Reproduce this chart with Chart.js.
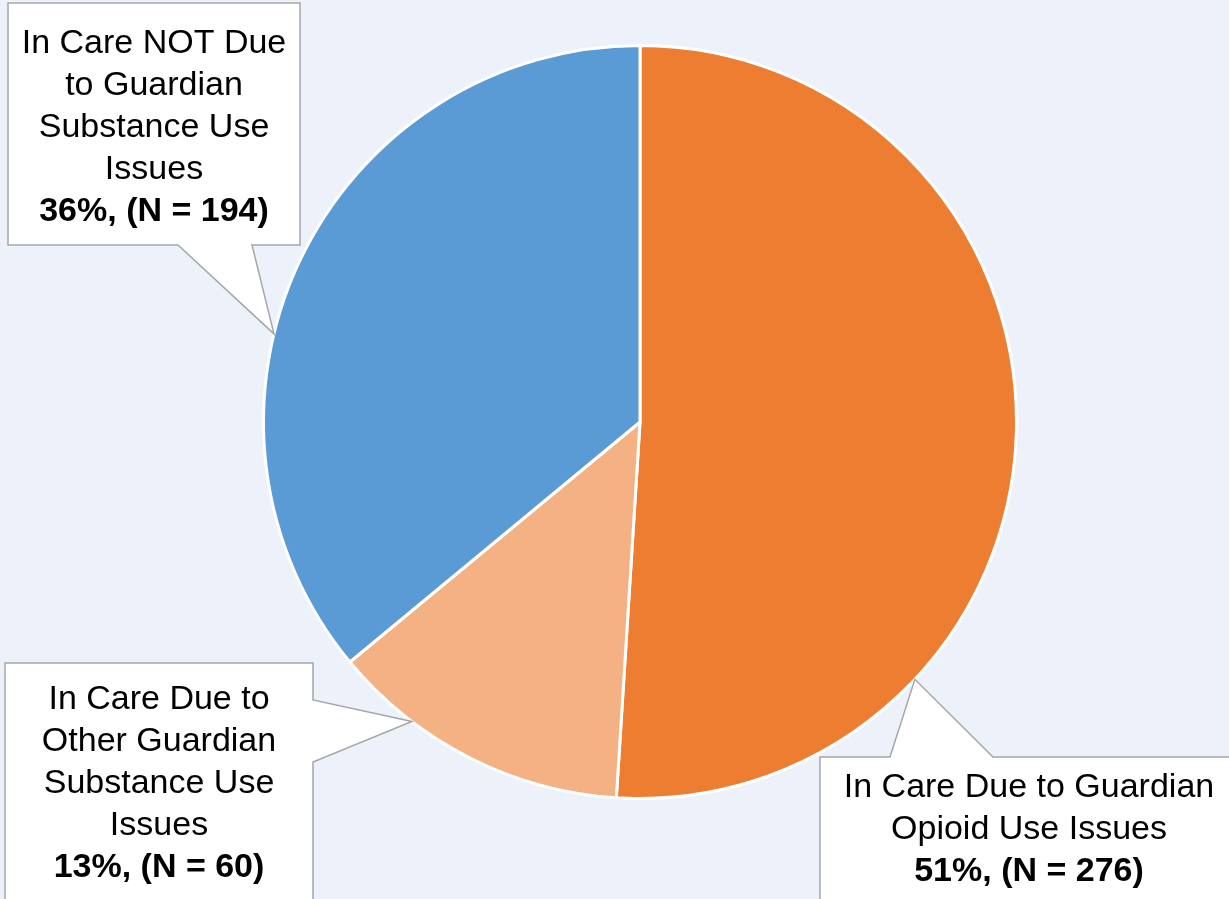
<!DOCTYPE html>
<html>
<head>
<meta charset="utf-8">
<script src="https://cdn.jsdelivr.net/npm/chart.js@4.4.0/dist/chart.umd.min.js"></script>
<style>
  html, body { margin: 0; padding: 0; background: #edf1f9; }
  #wrap { width: 1229px; height: 899px; }
</style>
</head>
<body>
<div id="wrap"><canvas id="pie"></canvas></div>
<script>
// Datos del gráfico
const categorias = [
  "In Care Due to Guardian Opioid Use Issues",
  "In Care Due to Other Guardian Substance Use Issues",
  "In Care NOT Due to Guardian Substance Use Issues"
];
const porcentajes = [51, 13, 36];
const conteos = [276, 60, 194];
const colores = ["#ed7d31", "#f4b183", "#5b9bd5"];

// Etiquetas con cuadro (texto por línea)
const lineasEtiqueta = [
  ["In Care Due to Guardian", "Opioid Use Issues"],
  ["In Care Due to", "Other Guardian", "Substance Use", "Issues"],
  ["In Care NOT Due", "to Guardian", "Substance Use", "Issues"]
];

// Posición de las cajas y del puntero (fracción del arco donde apunta)
const cajas = [
  { x: 820, y: 757, w: 420, h: 160, cx: 1029, ty: 788, tip: 0.725, side: "top", b1: 890, b2: 993 },
  { x: 5, y: 663, w: 308, h: 250, cx: 159, ty: 700, tip: 0.72, side: "right", b1: 700, b2: 762 },
  { x: 8, y: 3, w: 292, h: 242, cx: 154, ty: 44, tip: 0.41, side: "bottom", b1: 178, b2: 252 }
];

const fuente = "'Liberation Sans Narrow', 'Liberation Sans', sans-serif";

const calloutPlugin = {
  id: "callouts",
  afterDatasetsDraw(chart) {
    const ctx = chart.ctx;
    const meta = chart.getDatasetMeta(0);
    meta.data.forEach((arc, i) => {
      const c = cajas[i];
      const ang = arc.startAngle + (arc.endAngle - arc.startAngle) * c.tip;
      const tx = arc.x + Math.cos(ang) * arc.outerRadius;
      const ty = arc.y + Math.sin(ang) * arc.outerRadius;

      // Forma de la caja con puntero
      ctx.save();
      ctx.beginPath();
      const x0 = c.x, y0 = c.y, x1 = c.x + c.w, y1 = c.y + c.h;
      ctx.moveTo(x0, y0);
      if (c.side === "top") {
        ctx.lineTo(c.b1, y0); ctx.lineTo(tx, ty); ctx.lineTo(c.b2, y0);
      }
      ctx.lineTo(x1, y0);
      if (c.side === "right") {
        ctx.lineTo(x1, c.b1); ctx.lineTo(tx, ty); ctx.lineTo(x1, c.b2);
      }
      ctx.lineTo(x1, y1);
      if (c.side === "bottom") {
        ctx.lineTo(c.b2, y1); ctx.lineTo(tx, ty); ctx.lineTo(c.b1, y1);
      }
      ctx.lineTo(x0, y1);
      ctx.closePath();
      ctx.fillStyle = "#ffffff";
      ctx.fill();
      ctx.strokeStyle = "#a6a6a6";
      ctx.lineWidth = 1.5;
      ctx.stroke();

      // Texto
      ctx.fillStyle = "#000000";
      ctx.textAlign = "center";
      ctx.textBaseline = "middle";
      ctx.font = "34px " + fuente;
      const lineas = lineasEtiqueta[i];
      lineas.forEach((l, k) => ctx.fillText(l, c.cx, c.ty + k * 42));
      ctx.font = "bold 34px " + fuente;
      ctx.fillText(porcentajes[i] + "%, (N = " + conteos[i] + ")", c.cx, c.ty + lineas.length * 42);
      ctx.restore();
    });
  }
};

new Chart(document.getElementById("pie"), {
  type: "pie",
  data: {
    labels: categorias,
    datasets: [{
      data: porcentajes,
      backgroundColor: colores,
      borderColor: "#ffffff",
      borderWidth: 3
    }]
  },
  options: {
    responsive: true,
    maintainAspectRatio: false,
    animation: false,
    layout: { padding: { top: 44, bottom: 99, left: 51, right: 0 } },
    plugins: {
      legend: { display: false },
      tooltip: { enabled: false }
    }
  },
  plugins: [calloutPlugin]
});
</script>
</body>
</html>
